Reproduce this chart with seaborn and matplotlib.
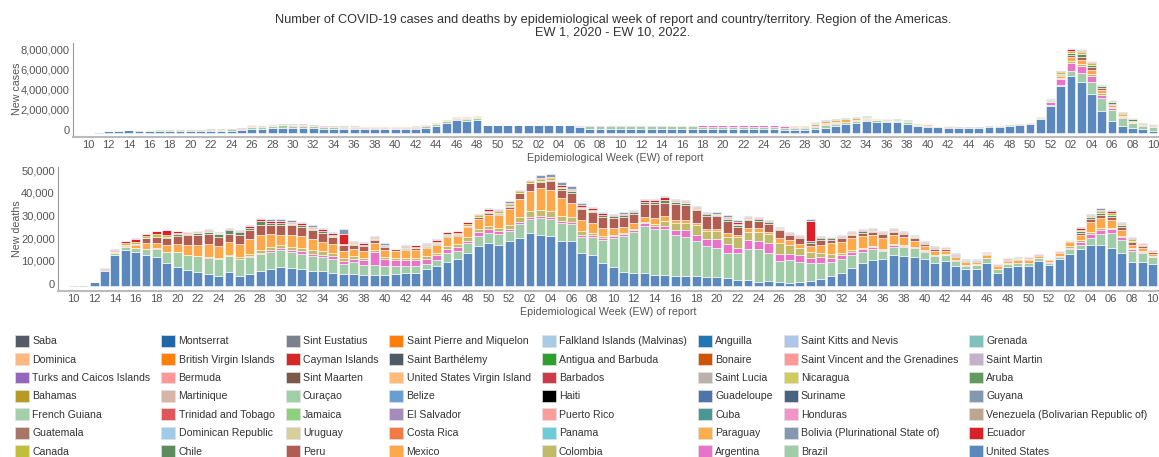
import pandas as pd
import matplotlib
matplotlib.use("Agg")
import matplotlib.pyplot as plt
from matplotlib.patches import Patch
from matplotlib.ticker import FuncFormatter
from matplotlib.transforms import ScaledTranslation
import seaborn as sns

# epidemiological weeks on the x axis: 2020 EW10 .. 2022 EW10
weeks_2020 = list(range(10, 53))
weeks_2021 = list(range(1, 53))
weeks_2022 = list(range(1, 11))
week_labels = [f"{w:02d}" for w in weeks_2020 + weeks_2021 + weeks_2022]

# legend entries, read row by row (8 per row)
countries = [
    "Saba", "Montserrat", "Sint Eustatius", "Saint Pierre and Miquelon",
    "Falkland Islands (Malvinas)", "Anguilla", "Saint Kitts and Nevis", "Grenada",
    "Dominica", "British Virgin Islands", "Cayman Islands", "Saint Barthélemy",
    "Antigua and Barbuda", "Bonaire", "Saint Vincent and the Grenadines", "Saint Martin",
    "Turks and Caicos Islands", "Bermuda", "Sint Maarten", "United States Virgin Island",
    "Barbados", "Saint Lucia", "Nicaragua", "Aruba",
    "Bahamas", "Martinique", "Curaçao", "Belize",
    "Haiti", "Guadeloupe", "Suriname", "Guyana",
    "French Guiana", "Trinidad and Tobago", "Jamaica", "El Salvador",
    "Puerto Rico", "Cuba", "Honduras", "Venezuela (Bolivarian Republic of)",
    "Guatemala", "Dominican Republic", "Uruguay", "Costa Rica",
    "Panama", "Paraguay", "Bolivia (Plurinational State of)", "Ecuador",
    "Canada", "Chile", "Peru", "Mexico",
    "Colombia", "Argentina", "Brazil", "United States",
]
colors = [
    "#545b66", "#2166a8", "#7c828d", "#ff7f0e", "#a9cce6", "#1f77b4", "#aec7e8", "#80c2b9",
    "#ffb97f", "#ff7f0e", "#d62728", "#4f5b66", "#2ca02c", "#cf5400", "#ff9896", "#c4b2cc",
    "#9467bd", "#ff9896", "#7b5848", "#ffbb78", "#cd3a4a", "#bab0ac", "#cfcb5c", "#619b5f",
    "#b79a24", "#d7b5a6", "#a0d0a6", "#6a9dd0", "#000000", "#4e74aa", "#4a6380", "#8099b0",
    "#a3cfab", "#e15759", "#8cd17d", "#a58cba", "#ff9d9a", "#499894", "#f294c8", "#bca591",
    "#a67766", "#a0cbe8", "#d7ce9c", "#f17a46", "#6acdd8", "#fdae4b", "#8499b0", "#da2128",
    "#c0bf3c", "#5e8b5e", "#b25d51", "#fea84a", "#c0bb6a", "#e873c8", "#a0cda8", "#5b88bd",
]

# new deaths per week, in thousands (lines: 2020 / 2021 / 2022)
deaths_us = [0.3,0.4,1.8,6.6,13.8,15.9,14.9,13.5,12.8,10.3, 8.5,6.9,6.0,5.4,4.4,6.2,4.3,5.3,6.5,7.6, 8.2,7.8,7.4,6.5,6.5,5.6,5.1,5.3,4.7,4.7, 4.7,5.1,5.6,5.9,7.4,8.8,10.7,11.9,14.7,17.6, 18.8,18.2,19.7,
             21.3,23.2,22.4,22.2,20.0,19.7,14.6,13.5,10.3,8.5, 6.2,5.9,5.6,4.7,4.7,4.6,4.4,4.4,4.1,3.8, 3.7,2.6,2.8,1.8,2.1,1.8,1.5,1.9,2.2,3.2, 4.6,5.6,8.1,10.3,11.6,12.1,13.7,13.2,12.9,11.8, 10.3,11.0,8.8,7.4,7.4,10.3,5.6,8.2,8.8,9.0, 11.0,9.1,
             11.8,14.3,16.2,17.9,18.2,16.8,14.6,10.7,10.6,9.7]
deaths_brazil = [0,0,0.1,0.5,0.8,1.3,1.7,2.7,3.7,4.7, 6.4,6.6,7.1,7.1,7.4,7.0,7.6,7.6,7.8,7.5, 7.7,7.2,6.9,6.7,6.1,6.3,4.6,5.1,4.7,4.7, 4.1,3.7,3.2,2.9,2.3,2.7,3.7,3.5,4.1,4.4, 4.4,4.7,4.4,
                 6.1,6.5,7.5,7.2,7.6,7.7,6.9,8.3,10.0,12.5, 15.9,18.1,21.0,20.4,20.3,17.8,17.4,15.3,13.5,13.2, 11.0,11.8,13.4,14.4,12.6,9.4,10.0,8.8,7.8,7.1, 6.1,6.2,5.6,4.7,4.6,3.2,3.7,3.9,3.7,3.3, 2.9,2.7,2.4,1.6,1.9,1.9,1.8,1.5,1.2,1.0, 1.2,1.2,
                 1.1,1.9,1.9,3.4,4.7,6.7,5.7,4.6,3.8,2.9]
deaths_argentina = [0,0,0,0,0,0,0.1,0.1,0.1,0.1, 0.1,0.1,0.1,0.1,0.1,0.2,0.2,0.3,0.4,0.8, 0.7,0.8,1.0,1.1,1.2,1.2,1.3,1.5,1.9,5.6, 3.0,2.7,2.7,2.7,2.4,2.0,2.1,1.9,1.2,2.0, 1.8,1.3,1.0,
                    0.8,0.9,1.0,0.9,1.0,1.0,0.9,0.6,1.0,0.9, 0.7,0.7,1.0,1.4,1.5,2.3,2.9,2.8,3.0,3.7, 3.8,2.6,4.1,3.5,4.1,2.9,2.6,2.8,2.2,2.3, 1.8,1.7,1.3,1.2,0.9,0.7,0.7,0.7,0.5,0.5, 0.3,0.2,0.2,0.1,0.1,0.1,0.1,0.1,0.1,0.1, 0.1,0.1,
                    0.3,0.8,1.2,1.6,1.8,1.5,1.2,0.9,0.6,0.4]
deaths_colombia = [0,0,0,0,0,0,0,0,0.1,0.1, 0.1,0.2,0.2,0.3,0.3,0.5,0.6,0.8,1.0,1.2, 1.5,1.6,1.6,1.8,1.8,1.5,1.2,1.2,1.1,1.0, 1.0,1.0,1.0,1.0,1.0,1.0,1.2,1.2,1.5,1.2, 1.4,1.5,1.7,
                   2.4,2.5,2.6,3.0,2.4,1.9,1.8,1.2,0.8,0.7, 0.6,0.6,0.6,1.0,2.3,2.9,2.9,4.4,3.7,3.5, 3.3,4.5,3.7,4.3,4.1,5.0,4.0,3.5,2.9,2.1, 1.5,1.2,0.8,0.6,0.5,0.4,0.3,0.3,0.3,0.2, 0.2,0.2,0.2,0.2,0.2,0.2,0.2,0.2,0.2,0.2, 0.2,0.2,
                   0.2,0.5,0.8,0.9,0.9,0.7,0.6,0.4,0.3,0.2]
deaths_mexico = [0,0,0,0.1,0.3,0.6,1.2,2.6,2.4,3.0, 3.6,4.4,4.8,5.7,5.3,5.6,5.7,6.7,7.0,5.8, 4.5,5.0,5.0,4.6,4.0,3.8,3.2,3.2,3.0,2.9, 2.9,2.8,3.2,3.3,3.5,3.6,3.8,3.5,4.4,4.6, 4.9,5.7,7.0,
                 7.6,8.9,9.7,9.1,7.8,6.5,4.9,4.4,3.3,3.1, 2.6,2.4,2.4,2.5,2.0,1.4,1.4,0.8,0.8,1.0, 1.5,1.0,1.5,1.5,1.0,1.9,2.2,1.5,2.7,3.4, 5.0,4.9,5.2,5.3,4.8,4.6,4.0,3.5,2.6,1.9, 1.9,1.5,1.3,1.2,1.2,1.3,1.1,1.2,1.2,1.2, 0.9,1.0,
                 1.2,1.8,2.4,4.6,4.3,3.4,2.8,1.5,1.4,1.1]
deaths_peru = [0,0,0,0,0.1,0.3,0.5,2.2,2.4,3.1, 3.6,4.2,4.2,4.2,4.2,3.3,4.2,3.9,4.1,4.0, 4.4,4.4,4.3,4.1,4.0,3.4,2.5,2.0,2.3,1.5, 1.5,0.9,0.8,0.9,0.7,0.6,0.6,0.5,0.5,0.5, 0.9,0.6,1.0,
               2.7,3.3,2.8,4.1,3.8,4.4,4.9,4.8,5.2,4.4, 4.4,4.0,5.6,6.0,6.0,7.3,6.8,5.7,5.8,5.5, 5.6,3.5,3.6,3.3,3.6,3.7,2.2,2.5,1.0,2.2, 1.5,1.5,1.5,1.5,1.6,1.8,1.6,1.2,1.3,0.8, 0.7,0.6,0.5,0.5,0.4,0.3,0.3,0.3,0.3,0.3, 0.3,0.2,
               0.3,0.5,1.0,1.4,1.5,1.5,1.2,1.2,0.9,0.6]
deaths_chile = [0,0,0,0.1,0.1,0.1,0.1,0.1,0.2,0.3, 0.5,0.5,0.9,1.2,1.3,1.8,1.2,1.1,2.0,1.0, 0.8,0.7,0.6,0.5,0.5,0.5,0.4,0.4,0.4,0.4, 0.4,0.3,0.3,0.3,0.3,0.3,0.3,0.3,0.3,0.3, 0.3,0.3,0.4,
                0.3,0.3,0.5,0.5,0.6,0.6,0.5,0.5,0.6,0.7, 0.8,0.8,0.9,1.0,1.0,0.8,0.8,0.7,0.7,0.6, 0.8,1.0,0.7,0.6,0.6,0.6,0.5,0.6,0.9,0.7, 0.6,0.5,0.6,0.5,0.5,0.4,0.4,0.4,0.3,0.4, 0.3,0.3,0.3,0.3,0.2,0.2,0.2,0.3,0.3,0.3, 0.1,0.1,
                0.1,0.1,0.6,0.6,0.8,0.9,0.7,0.7,0.5,0.3]
deaths_canada = [0,0,0.05,0.1,0.4,0.8,1.1,1.1,1.1,1.0, 0.8,0.6,0.5,0.4,0.3,0.2,0.2,0.1,0.1,0.1, 0.1,0.1,0.1,0.1,0.1,0.1,0.1,0.1,0.2,0.2, 0.2,0.2,0.3,0.4,0.5,0.6,0.6,0.7,0.7,0.7, 0.8,0.8,0.9,
                 0.9,0.9,0.9,0.7,0.5,0.4,0.3,0.3,0.3,0.2, 0.2,0.2,0.2,0.2,0.3,0.3,0.3,0.3,0.3,0.3, 0.3,0.3,0.2,0.1,0.1,0.1,0.1,0.1,0.1,0.1, 0.1,0.2,0.3,0.3,0.3,0.3,0.3,0.3,0.3,0.3, 0.3,0.2,0.2,0.2,0.1,0.2,0.1,0.2,0.2,0.2, 0.1,0.1,
                 0.2,0.2,0.8,0.7,0.9,0.8,0.6,0.6,0.4,0.3]
deaths_ecuador = [0,0,0.05,0.4,0.6,0.8,1.3,0.7,1.5,2.0, 0.7,0.3,0.3,0.3,0.3,0.4,0.4,0.5,0.6,0.8, 0.9,0.8,0.7,0.7,0.8,0.8,4.4,0.6,0.7,0.5, 0.5,0.2,0.5,0.5,0.6,0.7,0.7,0.6,0.7,0.4, 0.8,0.5,0.7,
                  0.2,0.2,0.5,0.6,0.8,0.8,0.8,0.7,0.6,0.5, 0.6,0.5,0.6,0.8,1.1,0.5,0.6,0.5,0.4,0.4, 0.5,0.9,0.4,0.4,0.5,0.4,0.4,0.5,8.8,0.4, 0.3,0.3,0.5,0.5,0.4,0.4,0.4,0.3,0.4,0.4, 0.4,0.4,0.3,0.2,0.2,0.2,0.2,0.3,0.2,0.3, 0.05,0.05,
                  0.1,0.1,0.5,0.4,0.6,0.6,0.5,0.4,0.3,0.2]
deaths_bolivia = [0,0,0,0,0.1,0.1,0.1,0.1,0.2,0.2, 0.2,0.2,0.3,0.3,0.3,0.4,0.4,0.5,0.6,0.8, 0.9,0.9,0.8,0.7,0.6,0.5,2.3,0.6,0.6,0.5, 0.5,0.1,0.3,0.3,0.3,0.3,0.3,0.3,0.3,0.3, 0.5,0.5,0.6,
                  0.1,0.1,1.1,1.1,1.4,1.1,0.9,0.7,0.5,0.5, 0.5,0.3,0.3,0.4,0.5,0.3,0.4,0.4,0.5,0.5, 0.7,0.9,0.5,0.4,0.4,0.4,0.3,0.3,1.0,0.5, 0.3,0.4,0.4,0.4,0.4,0.4,0.3,0.3,0.3,0.4, 0.3,0.3,0.2,0.2,0.2,0.2,0.1,0.2,0.1,0.2, 0.05,0.05,
                  0.1,0.1,0.5,0.5,0.7,0.6,0.5,0.5,0.3,0.2]

# new cases per week, in thousands (lines: 2020 / 2021 / 2022)
cases_us = [2,45,150,200,230,180,210,210,210,180, 170,160,170,160,200,250,380,400,450,500, 500,470,430,380,360,350,340,320,320,330, 330,330,400,500,690,990,1220,1190,1250,760, 760,760,760,
            760,760,760,760,760,530,400,360,360,360, 360,360,360,360,350,350,340,330,330,330, 330,330,330,330,330,260,260,260,330,500, 660,830,990,1160,1090,1020,1020,860,690,590, 530,460,500,480,500,590,560,690,760,860, 1370,2660,
            4620,5610,5020,3800,2180,1190,660,430,330,200]
cases_brazil = [0,0,2,10,20,25,35,50,70,80, 100,110,140,140,150,160,170,170,180,220, 200,200,200,180,170,160,150,150,140,130, 120,110,110,120,130,150,160,180,200,0, 0,0,0,
                0,0,0,0,0,170,290,330,330,330, 330,330,330,330,330,330,330,270,270,270, 270,270,270,270,270,240,240,240,270,260, 220,180,150,130,130,110,110,150,100,100, 50,50,50,50,45,70,45,40,40,40, 40,130,
                150,460,850,1250,1220,1050,800,490,360,330]
cases_argentina = [0,0,0,0,0,0,0,1,2,2, 3,5,7,10,13,17,20,25,28,33, 40,45,50,55,60,65,75,85,90,95, 100,105,100,90,75,60,50,45,45,0, 0,0,0,
                   0,0,0,0,0,20,20,20,20,20, 20,20,20,20,20,20,20,130,130,130, 130,130,130,130,130,120,90,70,60,50, 40,35,30,25,20,15,12,10,8,7, 7,7,8,9,10,12,13,15,20,30, 65,270,
                   540,790,730,560,330,180,120,70,45,30]
cases_colombia = [0,0,0,0,1,1,1,2,2,3, 4,5,6,8,12,18,25,30,40,50, 60,70,65,55,50,50,45,40,45,45, 50,55,60,60,60,55,55,60,70,0, 0,0,0,
                  0,0,0,0,0,0,20,20,20,20, 20,20,20,20,20,20,20,30,30,30, 30,30,30,30,30,80,110,120,180,140, 90,60,40,30,25,20,15,14,12,12, 12,12,12,14,14,15,15,15,15,15, 20,40,
                  150,200,220,200,160,110,70,40,25,15]
cases_mexico = [0,0,0,0,2,3,5,7,10,14, 18,23,27,30,35,40,42,45,45,45, 45,45,40,35,35,32,30,30,32,35, 38,42,45,50,55,60,60,65,75,0, 0,0,0,
                0,0,0,0,0,0,20,20,20,20, 20,20,20,20,20,20,20,10,10,10, 10,10,10,10,10,30,40,60,120,170, 200,200,200,140,120,90,80,90,60,60, 40,35,30,25,22,22,20,20,20,20, 30,60,
                190,400,430,400,300,200,150,80,60,40]
cases_peru = [0,0,0,1,3,5,15,25,35,40, 45,50,55,50,45,40,35,35,40,50, 60,60,65,60,60,50,40,30,25,20, 20,18,18,17,15,15,15,15,15,0, 0,0,0,
              0,0,0,0,0,0,0,0,0,0, 0,0,0,0,0,0,0,0,0,0, 0,0,0,0,0,0,0,0,10,10, 10,8,10,8,8,8,8,8,7,7, 7,8,8,8,8,8,8,8,9,10, 12,20,
              100,200,300,280,220,150,110,70,45,30]
cases_chile = [0,0,0,2,4,5,8,20,30,35, 40,45,60,50,35,25,20,15,13,12, 13,13,12,12,12,12,10,10,10,10, 10,10,10,10,10,10,10,10,10,0, 0,0,0,
               0,0,0,0,0,0,0,0,0,0, 0,0,0,0,0,0,0,0,0,0, 0,0,0,0,0,0,0,0,10,10, 8,6,6,5,5,5,5,8,8,10, 12,15,20,25,35,40,40,35,30,28, 25,25,
               40,200,220,230,190,170,160,150,140,120]
cases_canada = [0,0,2,5,9,10,10,10,9,8, 7,6,5,3,2,2,2,2,2,3, 3,3,4,6,8,10,12,15,16,17, 18,20,25,30,35,40,40,40,45,0, 0,0,0,
                0,0,0,0,0,0,0,0,0,0, 0,0,0,0,0,0,0,0,0,0, 0,0,0,0,0,0,0,0,5,5, 10,12,20,22,25,28,28,30,25,20, 18,17,17,17,18,18,19,20,21,30, 50,150,
                260,280,220,170,110,80,60,40,35,30]
cases_ecuador = [0,0,0,2,3,3,4,4,3,4, 3,3,3,4,4,5,5,6,6,7, 7,8,8,8,8,8,7,6,6,6, 5,5,5,5,5,5,5,5,5,0, 0,0,0,
                 0,0,0,0,0,0,0,0,0,0, 0,0,0,0,0,0,0,0,0,0, 0,0,0,0,0,0,0,0,5,5, 5,4,4,4,4,4,3,3,3,3, 3,3,3,3,3,4,5,6,6,6, 8,15,
                 60,120,120,70,40,20,15,10,8,5]
cases_bolivia = [0,0,0,0,0,0,0,1,1,2, 2,3,4,5,6,7,8,9,10,10, 10,10,9,8,6,5,4,3,2,2, 2,2,2,2,2,2,3,3,4,0, 0,0,0,
                 0,0,0,0,0,0,0,0,0,0, 0,0,0,0,0,0,0,0,0,0, 0,0,0,0,0,0,0,0,10,10, 8,6,5,4,4,4,3,3,3,3, 3,3,4,5,6,8,9,8,7,6, 10,30,
                 60,80,90,80,50,30,20,10,7,5]
cases_guatemala = [0,0,0,0,0,0,0,0,0,0, 0,0,3,4,5,6,6,6,6,6, 6,5,5,5,5,5,4,4,4,4, 4,4,4,4,4,4,4,4,4,0, 0,0,0,
                   0,0,0,0,0,0,0,0,0,0, 0,0,0,0,0,0,0,0,0,0, 0,0,0,0,0,0,0,0,20,22, 25,25,25,25,25,22,20,15,12,10, 6,5,4,4,4,4,4,4,4,4, 5,10,
                   30,40,50,50,40,30,20,15,10,8]
cases_cuba = [0,0,0,0,0,0,0,0,0,0, 0,0,0,0,0,0,0,0,0,0, 0,0,0,0,0,0,0,0,0,0, 0,0,0,0,0,0,0,0,0,0, 0,0,0,
              0,0,0,0,0,0,0,0,0,0, 0,0,0,0,0,0,0,0,0,0, 0,0,0,0,0,0,40,45,60,60, 65,65,60,55,45,35,25,20,10,5, 4,3,2,2,1,1,1,1,1,1, 1,2,
              10,10,10,10,10,10,8,5,5,5]

deaths = {
    "United States": deaths_us, "Brazil": deaths_brazil, "Argentina": deaths_argentina,
    "Colombia": deaths_colombia, "Mexico": deaths_mexico, "Peru": deaths_peru,
    "Chile": deaths_chile, "Canada": deaths_canada, "Ecuador": deaths_ecuador,
    "Bolivia (Plurinational State of)": deaths_bolivia,
}
cases = {
    "United States": cases_us, "Brazil": cases_brazil, "Argentina": cases_argentina,
    "Colombia": cases_colombia, "Mexico": cases_mexico, "Peru": cases_peru,
    "Chile": cases_chile, "Canada": cases_canada, "Ecuador": cases_ecuador,
    "Bolivia (Plurinational State of)": cases_bolivia, "Guatemala": cases_guatemala,
    "Cuba": cases_cuba,
}


def long_table(series):
    rows = []
    for country, vals in series.items():
        assert len(vals) == len(week_labels), (country, len(vals))
        for i, v in enumerate(vals):
            rows.append((i, country, v * 1000))
    return pd.DataFrame(rows, columns=["week", "country", "value"])


sns.set_style("white")
plt.rcParams["font.family"] = ["Liberation Sans", "DejaVu Sans"]
palette = dict(zip(countries, colors))
grey = "#555555"

fig = plt.figure(figsize=(11.59, 4.57), dpi=100)
ax1 = fig.add_axes([0.063, 0.7009, 0.9362, 0.2057])
ax2 = fig.add_axes([0.0503, 0.3632, 0.9488, 0.2707])

# axes, data, y label, y label centre (px from top), ylim, y ticks, x label y
panels = [
    (ax1, cases, "New cases", 89, (-0.4e6, 8.92e6), range(0, 8000001, 2000000), -0.176),
    (ax2, deaths, "New deaths", 229, (-2200, 52400), range(0, 50001, 10000), -0.128),
]
lift = ScaledTranslation(0, 2.5 / 100, fig.dpi_scale_trans)
for ax, series, ylab, ylab_y, ylim, yticks, xlab_y in panels:
    df = long_table(series)
    # first hue level ends on top of the stack, so use legend order
    order = [c for c in countries if c in series]
    sns.histplot(data=df, x="week", weights="value", hue="country", hue_order=order,
                 palette=palette, multiple="stack", discrete=True, shrink=0.86,
                 edgecolor="white", linewidth=0.4, alpha=1, legend=False, ax=ax)
    ax.set_xlim(-1.45, 104.5)
    ax.set_ylim(*ylim)
    ax.set_xticks(range(0, len(week_labels), 2))
    ax.set_xticklabels(week_labels[::2])
    ax.set_yticks(list(yticks))
    ax.yaxis.set_major_formatter(FuncFormatter(lambda v, p: f"{v:,.0f}"))
    ax.tick_params(axis="both", labelsize=8, length=2, width=0.8, pad=0.5)
    ax.tick_params(axis="x", colors="#aaaaaa", labelcolor=grey)
    ax.tick_params(axis="y", colors="#999999", labelcolor=grey)
    for lab in ax.get_yticklabels():
        lab.set_transform(lab.get_transform() + lift)
    for side in ("top", "right"):
        ax.spines[side].set_visible(False)
    ax.spines["left"].set_color("#999999")
    ax.spines["left"].set_linewidth(0.8)
    ax.spines["bottom"].set_color("#bbbbbb")
    ax.spines["bottom"].set_linewidth(1.5)
    ax.set_ylabel("")
    fig.text(17.5 / 1159, 1 - ylab_y / 457, ylab, rotation=90, ha="center", va="center",
             fontsize=7.7, color=grey)
    ax.set_xlabel("Epidemiological Week (EW) of report", fontsize=7.7, color=grey)
    ax.xaxis.set_label_coords(0.5, xlab_y)

fig.suptitle("Number of COVID-19 cases and deaths by epidemiological week of report and "
             "country/territory. Region of the Americas.\nEW 1, 2020 - EW 10, 2022.",
             x=613 / 1159, y=1 - 14 / 457, va="top", fontsize=9.2, color="#333333",
             linespacing=1.1)

# legend: matplotlib fills columns first, the reference reads row by row
ncol, nrow = 8, 7
idx = [r * ncol + c for c in range(ncol) for r in range(nrow)]
handles = [Patch(facecolor=palette[countries[i]], edgecolor="#e0e0e0", linewidth=0.5) for i in idx]
labels = [countries[i] for i in idx]
leg = fig.legend(handles, labels, ncol=ncol, loc="upper left",
                 bbox_to_anchor=(15 / 1159, 1 - 335 / 457), frameon=False, fontsize=7.6,
                 handlelength=1.33, handleheight=1.33, handletextpad=0.3,
                 columnspacing=1.05, labelspacing=0.63, borderpad=0, borderaxespad=0)
for t in leg.get_texts():
    t.set_color("#333333")

fig.savefig("out.png", dpi=100)
